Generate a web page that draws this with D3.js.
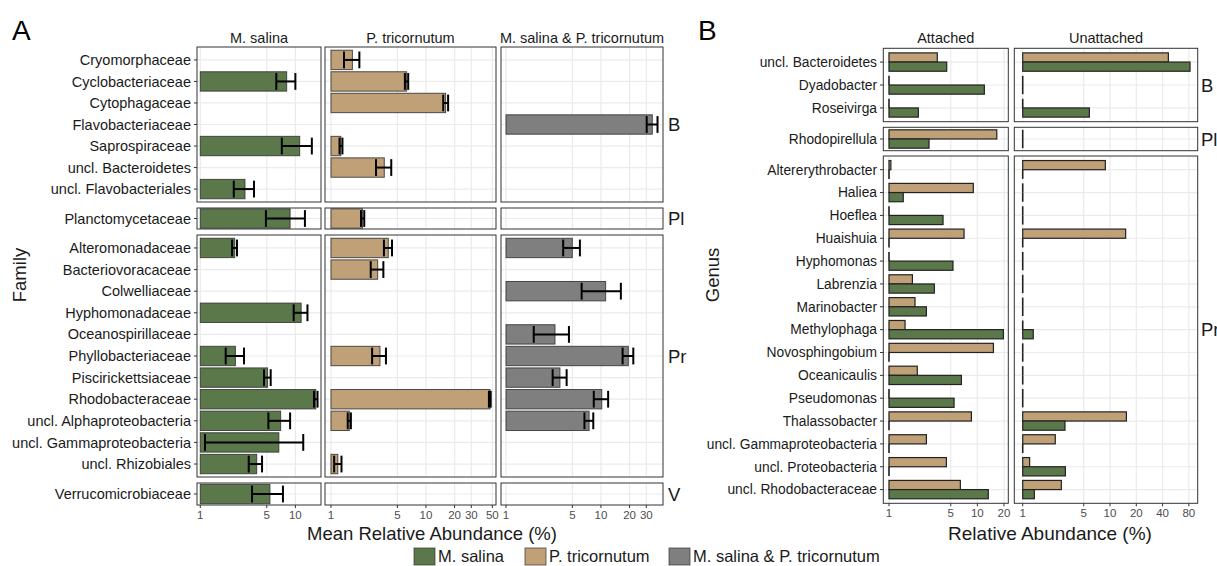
<!DOCTYPE html>
<html lang="en">
<head>
<meta charset="UTF-8">
<title>Relative abundance</title>
<style>
  body { margin: 0; background: #fff; }
  text { font-family: "Liberation Sans", Arial, sans-serif; }
</style>
</head>
<body>
<svg id="svg" width="1217" height="566"></svg>
<script src="https://d3js.org/d3.v7.min.js"></script>
<script>
// ---- panel A data (family level, mean + error range) ----
const families = ["Cryomorphaceae", "Cyclobacteriaceae", "Cytophagaceae", "Flavobacteriaceae", "Saprospiraceae",
  "uncl. Bacteroidetes", "uncl. Flavobacteriales", "Planctomycetaceae", "Alteromonadaceae", "Bacteriovoracaceae",
  "Colwelliaceae", "Hyphomonadaceae", "Oceanospirillaceae", "Phyllobacteriaceae", "Piscirickettsiaceae",
  "Rhodobacteraceae", "uncl. Alphaproteobacteria", "uncl. Gammaproteobacteria", "uncl. Rhizobiales", "Verrucomicrobiaceae"]
const familyPhylum = ["B","B","B","B","B","B","B","Pl","Pr","Pr","Pr","Pr","Pr","Pr","Pr","Pr","Pr","Pr","Pr","V"]

const salinaMean = [null, 8.1, null, null, 11.1, null, 2.95, 8.8, 2.3, null, null, 11.5, null, 2.34, 5.1, 16.4, 7.0, 6.7, 3.92, 5.4]
const salinaLo   = [null, 6.3, null, null, 7.2, null, 2.25, 4.9, 2.16, null, null, 9.6, null, 1.85, 4.68, 15.7, 5.2, 1.12, 3.23, 3.5]
const salinaHi   = [null, 10.0, null, null, 14.9, null, 3.67, 12.6, 2.43, null, null, 13.4, null, 2.88, 5.5, 17.1, 8.8, 12.1, 4.46, 7.4]

const tricMean = [1.68, 6.26, 16.1, null, 1.27, 3.64, null, 2.15, 4.01, 3.1, null, null, null, 3.28, null, 47.2, 1.56, null, 1.18, null]
const tricLo   = [1.37, 6.0, 15.2, null, 1.23, 2.98, null, 2.07, 3.61, 2.62, null, null, null, 2.71, null, 46, 1.5, null, 1.08, null]
const tricHi   = [1.99, 6.5, 17.1, null, 1.32, 4.31, null, 2.24, 4.39, 3.56, null, null, null, 3.79, null, 48, 1.62, null, 1.29, null]

const bothMean = [null, null, null, 34.7, null, null, null, null, 4.99, null, 11.2, null, 3.28, 19.4, 3.7, 10.2, 7.5, null, null, null]
const bothLo   = [null, null, null, 30.3, null, null, null, null, 4.0, null, 6.26, null, 1.96, 16.9, 3.1, 8.4, 6.7, null, null, null]
const bothHi   = [null, null, null, 39.4, null, null, null, null, 6.0, null, 16.2, null, 4.6, 21.9, 4.35, 11.9, 8.3, null, null, null]

// ---- panel B data (genus level) ----
const genera = ["uncl. Bacteroidetes", "Dyadobacter", "Roseivirga", "Rhodopirellula", "Altererythrobacter", "Haliea",
  "Hoeflea", "Huaishuia", "Hyphomonas", "Labrenzia", "Marinobacter", "Methylophaga", "Novosphingobium",
  "Oceanicaulis", "Pseudomonas", "Thalassobacter", "uncl. Gammaproteobacteria", "uncl. Proteobacteria", "uncl. Rhodobacteraceae"]
const genusPhylum = ["B","B","B","Pl","Pr","Pr","Pr","Pr","Pr","Pr","Pr","Pr","Pr","Pr","Pr","Pr","Pr","Pr","Pr"]

const attachedTric     = [3.52, 1, 1, 16.6, 1.05, 9.0, 1, 7.07, 1, 1.84, 1.97, 1.52, 15.2, 2.09, 1, 8.57, 2.65, 4.46, 6.42]
const attachedSalina   = [4.5, 12.0, 2.15, 2.84, 1, 1.45, 4.09, 1, 5.3, 3.26, 2.65, 19.7, 1, 6.6, 5.45, 1, 1, 1, 13.3]
const unattachedTric   = [46.6, 1, 1, 1, 8.84, 1, 1, 15.1, 1, 1, 1, 1, 1, 1, 1, 15.4, 2.36, 1.2, 2.77]
const unattachedSalina = [82.5, 1, 5.8, 1, 1, 1, 1, 1, 1, 1, 1, 1.32, 1, 1, 1, 3.05, 1, 3.08, 1.36]

const legendLabels = ["M. salina", "P. tricornutum", "M. salina & P. tricornutum"]

const green = '#5a784a', tan = '#c0a077', gray = '#7f7f7f'
const gridCol = '#ebebeb'

const svg = d3.select('#svg')

function rowScale(cats, y0, y1) {
  return d3.scalePoint().domain(cats).range([y0, y1]).padding(0.6)
}

function panelBase(x0, x1, y0, y1, xs, ticks, ys, cats) {
  const g = svg.append('g')
  g.append('rect').attr('x', x0).attr('y', y0).attr('width', x1 - x0).attr('height', y1 - y0).attr('fill', '#fff')
  g.selectAll('.vg').data(ticks).enter().append('line')
    .attr('x1', d => xs(d)).attr('x2', d => xs(d)).attr('y1', y0).attr('y2', y1)
    .attr('stroke', gridCol).attr('stroke-width', 1.2)
  g.selectAll('.hg').data(cats).enter().append('line')
    .attr('x1', x0).attr('x2', x1).attr('y1', d => ys(d)).attr('y2', d => ys(d))
    .attr('stroke', gridCol).attr('stroke-width', 1.2)
  return g
}

function border(x0, x1, y0, y1) {
  svg.append('rect').attr('x', x0).attr('y', y0).attr('width', x1 - x0).attr('height', y1 - y0)
    .attr('fill', 'none').attr('stroke', '#333').attr('stroke-width', 1)
}

function xTicks(xs, ticks, y) {
  ticks.forEach(t => {
    svg.append('line').attr('x1', xs(t)).attr('x2', xs(t)).attr('y1', y).attr('y2', y + 3)
      .attr('stroke', '#333').attr('stroke-width', 1)
    svg.append('text').attr('x', xs(t)).attr('y', y + 14).attr('text-anchor', 'middle')
      .attr('font-size', 11.5).attr('fill', '#4d4d4d').text(t)
  })
}

// ================= PANEL A =================
const rowsA = [
  { ph: 'B', y0: 47, y1: 202 },
  { ph: 'Pl', y0: 208, y1: 229 },
  { ph: 'Pr', y0: 235, y1: 477 },
  { ph: 'V', y0: 483, y1: 505 }
]
const colsA = [
  { name: 'M. salina', x0: 197, x1: 321, dom: [0.923, 18.6], ticks: [1, 5, 10], mean: salinaMean, lo: salinaLo, hi: salinaHi, color: green },
  { name: 'P. tricornutum', x0: 325, x1: 496, dom: [0.865, 54.6], ticks: [1, 5, 10, 20, 30, 50], mean: tricMean, lo: tricLo, hi: tricHi, color: tan },
  { name: 'M. salina & P. tricornutum', x0: 501, x1: 663, dom: [0.886, 45], ticks: [1, 5, 10, 20, 30], mean: bothMean, lo: bothLo, hi: bothHi, color: gray }
]
const stepA = (202 - 47) / 7.2

rowsA.forEach(r => {
  r.cats = families.filter((f, i) => familyPhylum[i] === r.ph)
  r.ys = rowScale(r.cats, r.y0, r.y1)
})

colsA.forEach(c => {
  const xs = d3.scaleLog().domain(c.dom).range([c.x0, c.x1])
  rowsA.forEach(r => {
    const g = panelBase(c.x0, c.x1, r.y0, r.y1, xs, c.ticks, r.ys, r.cats)
    const rows = families.map((f, i) => ({ f, i, m: c.mean[i], lo: c.lo[i], hi: c.hi[i] }))
      .filter(d => familyPhylum[d.i] === r.ph && d.m != null)
    g.selectAll('.bar').data(rows).enter().append('rect')
      .attr('x', xs(1)).attr('width', d => xs(d.m) - xs(1))
      .attr('y', d => r.ys(d.f) - stepA * 0.45).attr('height', stepA * 0.9)
      .attr('fill', c.color).attr('stroke', '#333').attr('stroke-opacity', 0.85).attr('stroke-width', 1)
    const eb = g.selectAll('.eb').data(rows).enter().append('g')
    eb.append('line').attr('x1', d => xs(d.lo)).attr('x2', d => xs(d.hi))
      .attr('y1', d => r.ys(d.f)).attr('y2', d => r.ys(d.f)).attr('stroke', '#000').attr('stroke-width', 2)
    ;['lo', 'hi'].forEach(k => {
      eb.append('line').attr('x1', d => xs(d[k])).attr('x2', d => xs(d[k]))
        .attr('y1', d => r.ys(d.f) - stepA * 0.39).attr('y2', d => r.ys(d.f) + stepA * 0.39)
        .attr('stroke', '#000').attr('stroke-width', 2)
    })
    border(c.x0, c.x1, r.y0, r.y1)
  })
  svg.append('text').attr('x', (c.x0 + c.x1) / 2).attr('y', 43).attr('text-anchor', 'middle')
    .attr('font-size', 14.5).attr('fill', '#1a1a1a').text(c.name)
  xTicks(xs, c.ticks, 505)
})

rowsA.forEach(r => {
  r.cats.forEach(f => {
    svg.append('line').attr('x1', 194).attr('x2', 197).attr('y1', r.ys(f)).attr('y2', r.ys(f)).attr('stroke', '#333')
    svg.append('text').attr('x', 191).attr('y', r.ys(f)).attr('dy', '0.35em').attr('text-anchor', 'end')
      .attr('font-size', 14.5).attr('fill', '#1a1a1a').text(f)
  })
  svg.append('text').attr('x', 668).attr('y', (r.y0 + r.y1) / 2).attr('dy', '0.36em')
    .attr('font-size', 18.5).attr('fill', '#1a1a1a').text(r.ph)
})

svg.append('text').attr('x', 12).attr('y', 40).attr('font-size', 28).text('A')
svg.append('text').attr('transform', 'translate(26,275) rotate(-90)').attr('text-anchor', 'middle')
  .attr('font-size', 18.5).attr('fill', '#1a1a1a').text('Family')
svg.append('text').attr('x', 432).attr('y', 540).attr('text-anchor', 'middle')
  .attr('font-size', 18.5).attr('fill', '#1a1a1a').text('Mean Relative Abundance (%)')

// ================= PANEL B =================
const rowsB = [
  { ph: 'B', y0: 48.3, y1: 121.7 },
  { ph: 'Pl', y0: 127.3, y1: 150.7 },
  { ph: 'Pr', y0: 156, y1: 503.3 }
]
const colsB = [
  { name: 'Attached', x0: 883.3, x1: 1008.3, dom: [0.862, 22.4], ticks: [1, 5, 10, 20], tric: attachedTric, sal: attachedSalina },
  { name: 'Unattached', x0: 1014.3, x1: 1197.7, dom: [0.801, 101], ticks: [1, 5, 10, 20, 40, 80], tric: unattachedTric, sal: unattachedSalina }
]
const stepB = (121.7 - 48.3) / 3.2

rowsB.forEach(r => {
  r.cats = genera.filter((g, i) => genusPhylum[i] === r.ph)
  r.ys = rowScale(r.cats, r.y0, r.y1)
})

colsB.forEach(c => {
  const xs = d3.scaleLog().domain(c.dom).range([c.x0, c.x1])
  rowsB.forEach(r => {
    const g = panelBase(c.x0, c.x1, r.y0, r.y1, xs, c.ticks, r.ys, r.cats)
    const rows = []
    genera.forEach((gn, i) => {
      if (genusPhylum[i] !== r.ph) return
      rows.push({ gn, v: c.tric[i], off: -stepB * 0.4, color: tan })
      rows.push({ gn, v: c.sal[i], off: 0, color: green })
    })
    g.selectAll('.bar').data(rows.filter(d => d.v > 1)).enter().append('rect')
      .attr('x', xs(1)).attr('width', d => xs(d.v) - xs(1))
      .attr('y', d => r.ys(d.gn) + d.off).attr('height', stepB * 0.4)
      .attr('fill', d => d.color).attr('stroke', '#222').attr('stroke-width', 1.2)
    // zero-width bars only show their outline
    g.selectAll('.zero').data(rows.filter(d => d.v <= 1)).enter().append('line')
      .attr('x1', xs(1)).attr('x2', xs(1))
      .attr('y1', d => r.ys(d.gn) + d.off).attr('y2', d => r.ys(d.gn) + d.off + stepB * 0.4)
      .attr('stroke', '#222').attr('stroke-width', 1.6)
    border(c.x0, c.x1, r.y0, r.y1)
  })
  svg.append('text').attr('x', (c.x0 + c.x1) / 2).attr('y', 43).attr('text-anchor', 'middle')
    .attr('font-size', 14.5).attr('fill', '#1a1a1a').text(c.name)
  xTicks(xs, c.ticks, 503.3)
})

rowsB.forEach(r => {
  r.cats.forEach(gn => {
    svg.append('line').attr('x1', 880).attr('x2', 883.3).attr('y1', r.ys(gn)).attr('y2', r.ys(gn)).attr('stroke', '#333')
    svg.append('text').attr('x', 877).attr('y', r.ys(gn)).attr('dy', '0.35em').attr('text-anchor', 'end')
      .attr('font-size', 13.8).attr('fill', '#1a1a1a').text(gn)
  })
  svg.append('text').attr('x', 1201).attr('y', (r.y0 + r.y1) / 2).attr('dy', '0.36em')
    .attr('font-size', 18.5).attr('fill', '#1a1a1a').text(r.ph)
})

svg.append('text').attr('x', 698).attr('y', 40).attr('font-size', 28).text('B')
svg.append('text').attr('transform', 'translate(719,275) rotate(-90)').attr('text-anchor', 'middle')
  .attr('font-size', 18.5).attr('fill', '#1a1a1a').text('Genus')
svg.append('text').attr('x', 1050).attr('y', 540).attr('text-anchor', 'middle')
  .attr('font-size', 19).attr('fill', '#1a1a1a').text('Relative Abundance (%)')

// ================= LEGEND =================
const legendX = [414, 525, 669]
const legendCol = [green, tan, gray]
legendLabels.forEach((l, i) => {
  svg.append('rect').attr('x', legendX[i]).attr('y', 548).attr('width', 21).attr('height', 17)
    .attr('fill', legendCol[i]).attr('stroke', '#333').attr('stroke-opacity', 0.7)
  svg.append('text').attr('x', legendX[i] + 24).attr('y', 562).attr('font-size', 16.5)
    .attr('fill', '#1a1a1a').text(l)
})
</script>
</body>
</html>
